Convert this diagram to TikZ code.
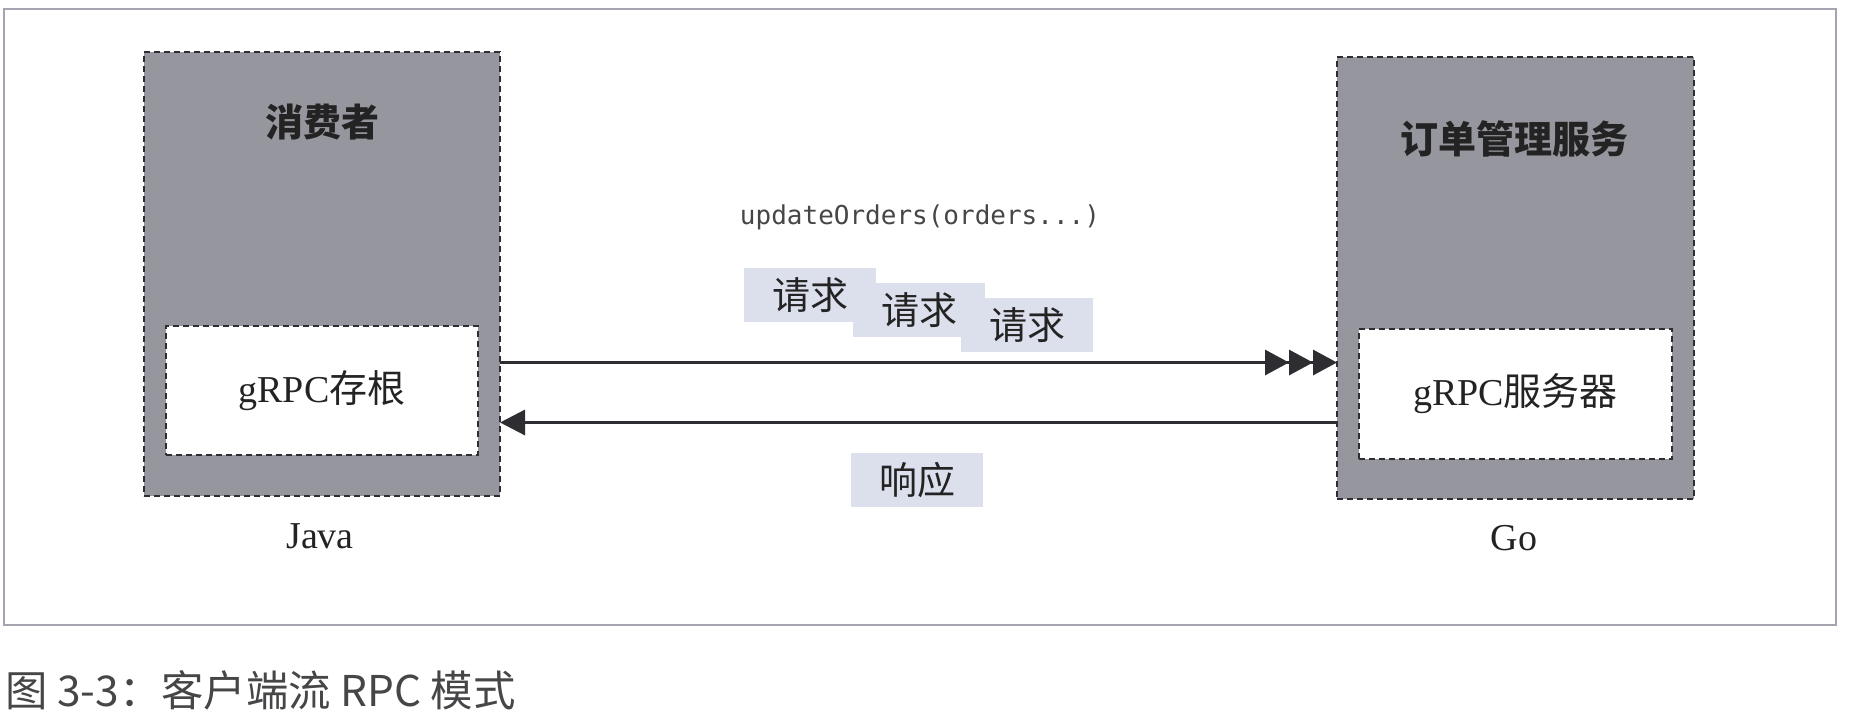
\documentclass[tikz,border=0pt]{standalone}
\usepackage{fontspec}
\setmainfont{Liberation Serif}
\newfontfamily\cjk{Noto Sans CJK SC}
\newfontfamily\codefont{DejaVu Sans Mono}
\usepackage{tikz}
\usetikzlibrary{arrows.meta,positioning}
\usepackage{xcolor}
\definecolor{boxgrey}{RGB}{150,150,158}
\definecolor{msgblue}{RGB}{220,224,236}
\definecolor{linegrey}{RGB}{45,45,50}
\definecolor{framegrey}{RGB}{165,165,178}
\definecolor{textdark}{RGB}{35,35,35}
\definecolor{captiongrey}{RGB}{70,70,72}

\begin{document}
\begin{tikzpicture}[
    x=0.5pt, y=-0.5pt,
    service/.style={rectangle, draw=linegrey, densely dashed, line width=1pt, fill=boxgrey, inner sep=0pt, outer sep=0pt},
    inner/.style={rectangle, draw=linegrey, densely dashed, line width=1pt, fill=white, inner sep=0pt, outer sep=0pt, text=textdark, font=\fontsize{19pt}{22pt}\selectfont},
    title/.style={text=textdark, font=\fontsize{19pt}{22pt}\selectfont\cjk\bfseries},
    lang/.style={text=textdark, font=\fontsize{19pt}{22pt}\selectfont},
    msg/.style={rectangle, fill=msgblue, inner sep=0pt, minimum width=66pt, minimum height=27pt, text=textdark, font=\fontsize{19pt}{22pt}\selectfont\cjk},
    reqarrow/.style={line width=1.6pt, draw=linegrey, -{Triangle[length=12pt,width=12.5pt,sep=0pt] Triangle[length=12pt,width=12.5pt,sep=0pt] Triangle[length=12pt,width=12.5pt]}},
    resarrow/.style={line width=1.6pt, draw=linegrey, {Triangle[length=12.5pt,width=12.5pt]}-}
]
\useasboundingbox (0,0) rectangle (1868,724);
\draw[framegrey, line width=1pt] (4,9) rectangle (1836,625);

% client side
\node[service, minimum width=178pt, minimum height=222pt] (consumer) at (322,274) {};
\node[inner, minimum width=156pt, minimum height=64.5pt] (stub) at (322,390.5) {gRPC{\cjk 存根}};
\node[title] (consumertitle) at (322,122) {消费者};
\node[lang] (java) at (320,536) {Java};

% server side
\node[service, minimum width=178.5pt, minimum height=221pt] (ordersvc) at (1515.5,278) {};
\node[inner, minimum width=156.5pt, minimum height=65pt] (server) at (1515.5,394) {gRPC{\cjk 服务器}};
\node[title] (ordertitle) at (1514,139) {订单管理服务};
\node[lang] (go) at (1514,538) {Go};

% messages
\node[text=captiongrey, font=\fontsize{13pt}{15pt}\selectfont\codefont] (call) at (920,217) {updateOrders(orders...)};
\foreach \i/\x/\y in {1/810/295, 2/919/310, 3/1027/325}
    \node[msg] (req\i) at (\x,\y) {请求};
\node[msg] (resp) at (917,480) {响应};

% connectors
\coordinate (reqy) at ([yshift=14pt]stub.center);
\coordinate (resy) at ([yshift=-16pt]stub.center);
\draw[reqarrow] (consumer.east |- reqy) -- (ordersvc.west |- reqy);
\draw[resarrow] (consumer.east |- resy) -- (ordersvc.west |- resy);

% caption
\node[anchor=west, inner sep=0pt, text=captiongrey, font=\fontsize{21.2pt}{25pt}\selectfont\cjk] (caption) at (5,690) {图 3-3：客户端流 RPC 模式};
\end{tikzpicture}
\end{document}
